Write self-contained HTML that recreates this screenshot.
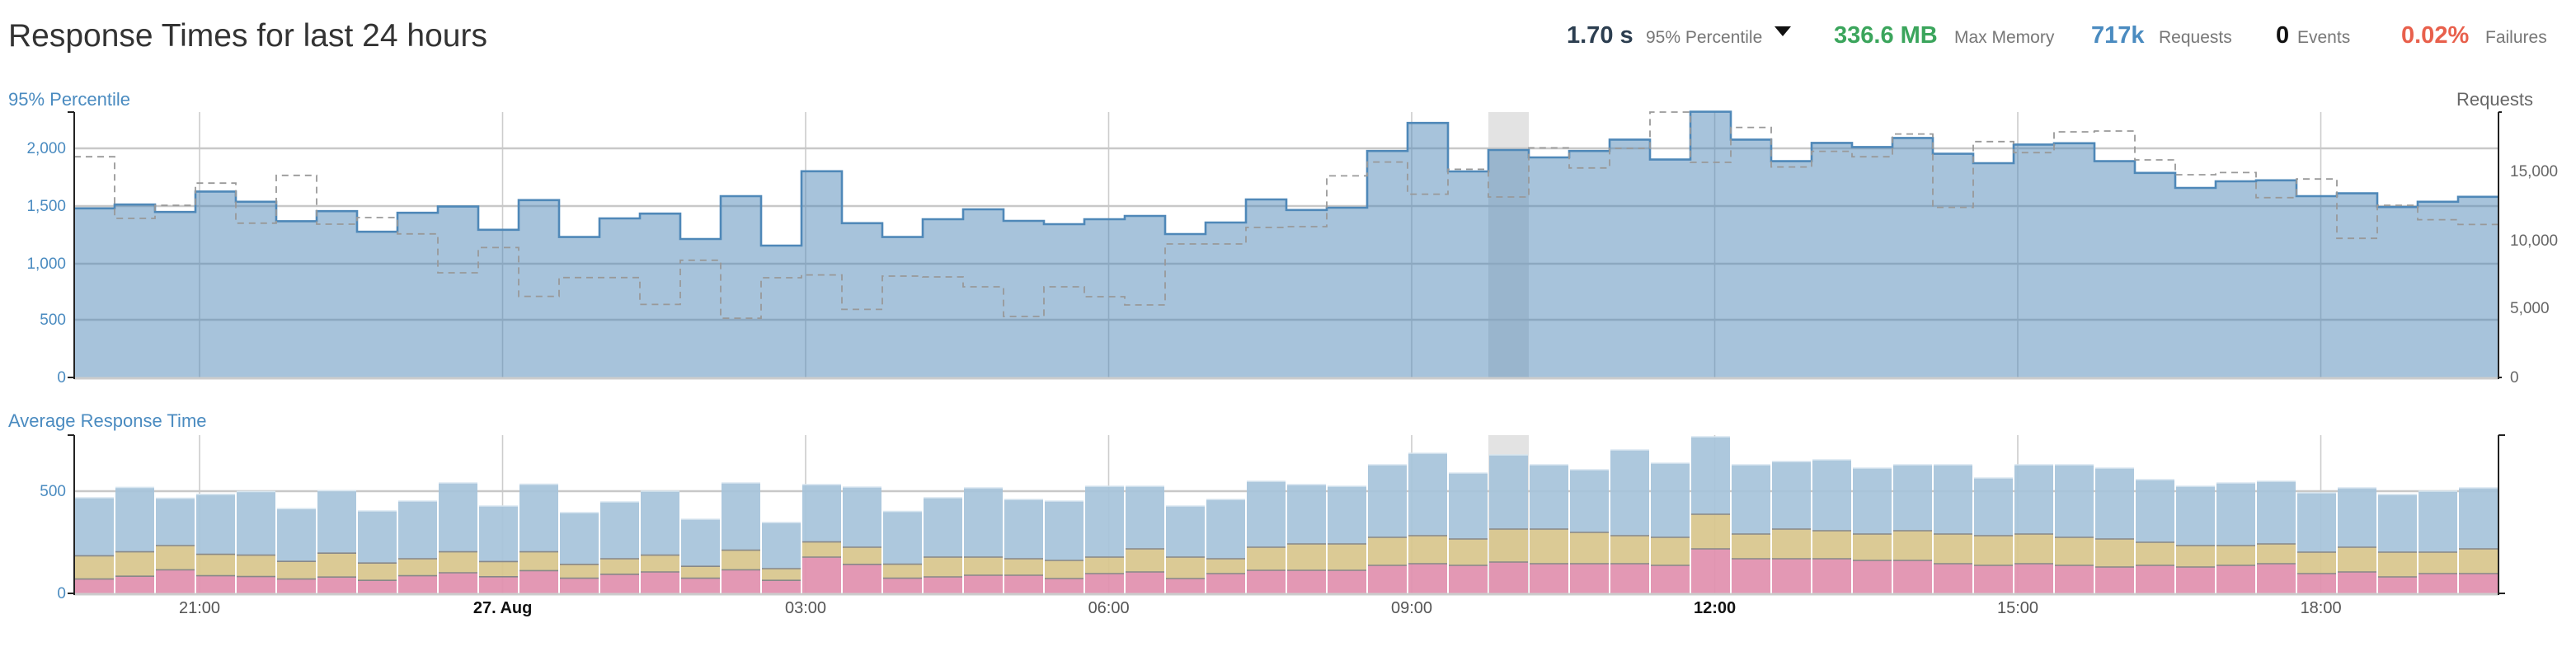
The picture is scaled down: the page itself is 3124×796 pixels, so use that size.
<!DOCTYPE html>
<html><head><meta charset="utf-8"><style>
html,body{margin:0;padding:0;background:#fff;}
svg{display:block;font-family:"Liberation Sans",sans-serif;}
</style></head><body>
<svg id="s" width="3124" height="796" viewBox="0 0 1562 398" xmlns="http://www.w3.org/2000/svg">
<text x="5" y="28" font-size="19.5" fill="#333">Response Times for last 24 hours</text>
<text x="950" y="26" font-size="14.5" font-weight="bold" fill="#2c3e50">1.70 s</text>
<text x="998" y="26" font-size="10.5" fill="#777">95% Percentile</text>
<path d="M1076 16 L1086 16 L1081 22 Z" fill="#111"/>
<text x="1112" y="26" font-size="14.5" font-weight="bold" fill="#3ba55c">336.6 MB</text>
<text x="1185" y="26" font-size="10.5" fill="#777">Max Memory</text>
<text x="1268" y="26" font-size="14.5" font-weight="bold" fill="#4a8bc0">717k</text>
<text x="1309" y="26" font-size="10.5" fill="#777">Requests</text>
<text x="1380" y="26" font-size="14.5" font-weight="bold" fill="#111">0</text>
<text x="1393" y="26" font-size="10.5" fill="#777">Events</text>
<text x="1456" y="26" font-size="14.5" font-weight="bold" fill="#e8604c">0.02%</text>
<text x="1507" y="26" font-size="10.5" fill="#777">Failures</text>

<text x="5" y="64" font-size="11" fill="#4a8bc0">95% Percentile</text>
<text x="1536" y="64" font-size="11" fill="#666" text-anchor="end">Requests</text>
<text x="5" y="259" font-size="11" fill="#4a8bc0">Average Response Time</text>

<g id="g1"></g>
<g font-size="9.5" fill="#4a8bc0" text-anchor="end">
<text x="40" y="93">2,000</text><text x="40" y="128">1,500</text><text x="40" y="163">1,000</text><text x="40" y="197">500</text><text x="40" y="232">0</text>
<text x="40" y="301">500</text><text x="40" y="363">0</text>
</g>
<g font-size="9.5" fill="#666">
<text x="1522" y="107">15,000</text><text x="1522" y="149">10,000</text><text x="1522" y="190">5,000</text><text x="1522" y="232">0</text>
</g>
<g font-size="10" fill="#555" text-anchor="middle">
<text x="121" y="372">21:00</text><text x="304.8" y="372" font-weight="bold" fill="#111">27. Aug</text>
<text x="488.5" y="372">03:00</text><text x="672.3" y="372">06:00</text><text x="856" y="372">09:00</text>
<text x="1039.8" y="372" font-weight="bold" fill="#111">12:00</text><text x="1223.5" y="372">15:00</text><text x="1407.3" y="372">18:00</text>
</g>
</svg>
<script>
var top1=[126.4,124.1,128.6,116.2,122.4,134.2,128.1,140.6,129.1,125.3,139.4,121.4,143.8,132.5,129.6,145,119,149,103.9,135.4,143.8,133,127,134,136,133,131,142,135,121,127.4,126,91.6,74.6,104,91,95.5,91.6,84.7,96.8,67.8,84.7,97.8,86.7,89.2,83.7,93.3,99,87.7,86.9,97.8,104.9,114,110,109.4,119,117.3,125.6,122.4,119.4];
var dash=[95.1,132.5,124.6,111.1,135.4,106.4,136,132,141.9,165.5,150.2,179.8,168.4,168.4,184.7,157.9,193.1,168.5,166.8,187.7,167.5,168,174,192,174,180,185,148,148,138,137.5,106.7,98.3,117.8,102.7,119.5,89.7,101.9,90,68,98.5,77.3,101.3,91.8,95.1,81.3,125.8,85.9,92.6,80,79.5,97,106,104.7,119.9,108.6,144.6,124.6,133.3,136.2];
var b=[[302,337.2,351.3],[295.7,334.8,349.6],[302.3,331,345.7],[299.9,336.3,349.3],[298.2,336.8,349.8],[308.6,340.6,351.3],[297.7,335.6,350.1],[310,341.6,352.1],[304,339,349.3],[293,334.8,347.5],[307,340.7,349.9],[293.8,334.8,346.2],[311,342.4,350.8],[304.5,339,348.4],[298,336.8,347],[315,343.6,350.8],[293,333.8,345.7],[317,345,352.1],[294,328.8,338],[295.5,332,342.4],[310.3,342.3,350.8],[302,338,350],[296,338,349],[303,339,349],[304,340,351],[295,338,348],[295,333,347],[307,338,351],[303,339,348],[292,332,346],[294,330,346],[295,330,346],[282,326,343],[275,325,342],[287,327,343],[276,321,341],[282,321,342],[285,323,342],[273,325,342],[281,326,343],[265,312,333],[282,324,339],[280,321,339],[279,322,339],[284,324,340],[282,322,340],[282,324,342],[290,325,343],[282,324,342],[282,326,343],[284,327,344],[291,329,343],[295,331,344],[293,331,343],[292,330,342],[299,335,348],[296,332,347],[300,335,350],[298,335,348],[296,333,348]];
var X0=45,X1=1515,W=(X1-X0)/60,o='';
var vx=[];for(var k=0;k<8;k++)vx.push(121+k*7.5*W);
o+='<rect x="'+(X0+35*W)+'" y="68" width="'+W+'" height="161" fill="#e3e3e3"/>';
vx.forEach(function(x){o+='<line x1="'+x+'" y1="68" x2="'+x+'" y2="229" stroke="#ccc" stroke-width="0.8"/>';});
[90,125,160,194].forEach(function(y){o+='<line x1="'+X0+'" y1="'+y+'" x2="'+X1+'" y2="'+y+'" stroke="#c8c8c8" stroke-width="1.2"/>';});
var p='M'+X0+' 229',l='';
for(var i=0;i<60;i++){var a=X0+i*W,c=a+W;p+=' L'+a+' '+top1[i]+' L'+c+' '+top1[i];l+=(i?' L':'M')+a+' '+top1[i]+' L'+c+' '+top1[i];}
p+=' L'+X1+' 229 Z';
o+='<path d="'+p+'" fill="rgba(79,136,184,0.5)"/>';
o+='<path d="'+l+'" fill="none" stroke="#4f88b8" stroke-width="1.3"/>';
var d='';for(i=0;i<60;i++){var a=X0+i*W;d+=(i?' L':'M')+a+' '+dash[i]+' L'+(a+W)+' '+dash[i];}
o+='<path d="'+d+'" fill="none" stroke="#999" stroke-width="0.9" stroke-dasharray="4,3"/>';
o+='<line x1="'+X0+'" y1="229.5" x2="'+X1+'" y2="229.5" stroke="#ccc" stroke-width="1.5"/>';
o+='<line x1="'+X0+'" y1="68" x2="'+X0+'" y2="230" stroke="#222" stroke-width="1"/><line x1="41" y1="68" x2="45" y2="68" stroke="#222"/><line x1="41" y1="229" x2="45" y2="229" stroke="#222"/>';
o+='<line x1="'+X1+'" y1="68" x2="'+X1+'" y2="230" stroke="#222" stroke-width="1"/><line x1="'+X1+'" y1="68" x2="'+(X1+2)+'" y2="68" stroke="#222"/><line x1="'+X1+'" y1="229" x2="'+(X1+2)+'" y2="229" stroke="#222"/>';
o+='<rect x="'+(X0+35*W)+'" y="264" width="'+W+'" height="96" fill="#e3e3e3"/>';
vx.forEach(function(x){o+='<line x1="'+x+'" y1="264" x2="'+x+'" y2="360" stroke="#ccc" stroke-width="0.8"/>';});
o+='<line x1="'+X0+'" y1="298" x2="'+X1+'" y2="298" stroke="#c8c8c8" stroke-width="1.2"/>';
for(i=0;i<60;i++){var a=X0+i*W+0.5,w=W-1,t=b[i];
o+='<rect x="'+a+'" y="'+t[0]+'" width="'+w+'" height="'+(t[1]-t[0])+'" fill="#a7c4da" fill-opacity="0.93"/>';
o+='<rect x="'+a+'" y="'+t[1]+'" width="'+w+'" height="'+(t[2]-t[1])+'" fill="#d8c68d" fill-opacity="0.93"/>';
o+='<rect x="'+a+'" y="'+t[2]+'" width="'+w+'" height="'+(360-t[2])+'" fill="#e190ae" fill-opacity="0.93"/>';
o+='<line x1="'+a+'" y1="'+t[1]+'" x2="'+(a+w)+'" y2="'+t[1]+'" stroke="#888" stroke-width="0.8"/>';
o+='<line x1="'+a+'" y1="'+t[2]+'" x2="'+(a+w)+'" y2="'+t[2]+'" stroke="#888" stroke-width="0.8"/>';
o+='<line x1="'+a+'" y1="'+t[0]+'" x2="'+(a+w)+'" y2="'+t[0]+'" stroke="#d8e6f0" stroke-width="0.8"/>';}
o+='<line x1="'+X0+'" y1="360.5" x2="'+X1+'" y2="360.5" stroke="#ccc" stroke-width="1.5"/>';
o+='<line x1="'+X0+'" y1="264" x2="'+X0+'" y2="361" stroke="#222"/><line x1="41" y1="264" x2="45" y2="264" stroke="#222"/><line x1="41" y1="360" x2="45" y2="360" stroke="#222"/>';
o+='<line x1="'+X1+'" y1="264" x2="'+X1+'" y2="361" stroke="#222"/><line x1="'+X1+'" y1="264" x2="'+(X1+4)+'" y2="264" stroke="#222"/><line x1="'+X1+'" y1="360" x2="'+(X1+4)+'" y2="360" stroke="#222"/>';
document.getElementById('g1').innerHTML=o;
</script>
</body></html>
